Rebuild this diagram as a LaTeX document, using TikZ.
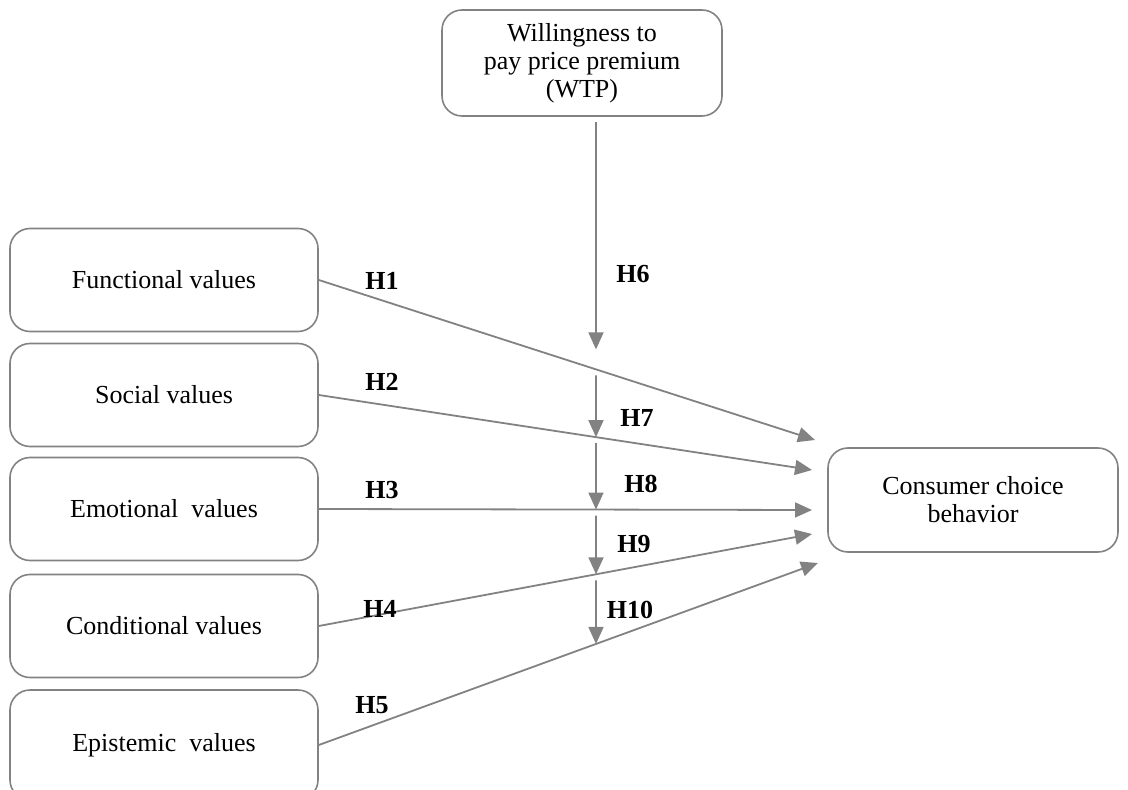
\documentclass[tikz,border=0pt]{standalone}
\usepackage{fontspec}
\setmainfont{Liberation Serif}
\usetikzlibrary{arrows.meta}
\definecolor{linegray}{RGB}{130,130,130}

\begin{document}
\begin{tikzpicture}[x=0.5pt,y=-0.5pt,
    valbox/.style={draw=linegray, line width=0.8pt, rounded corners=10pt,
      minimum width=154pt, minimum height=51.5pt, align=center,
      font=\fontsize{13}{14}\selectfont},
    hyp/.style={draw=linegray, line width=0.9pt,
      -{Triangle[length=8.5pt,width=7.5pt]}},
    hlabel/.style={font=\fontsize{13}{14}\selectfont\bfseries}]
    \useasboundingbox (0,0) rectangle (1128,790);
    % constructs
    \node[valbox, minimum width=140pt, minimum height=53pt] (wtp) at (582,63)
      {Willingness to\\pay price premium\\(WTP)};
    \node[valbox] (fv) at (164,280) {Functional values};
    \node[valbox] (sv) at (164,395) {Social values};
    \node[valbox] (ev) at (164,509) {Emotional\ \ values};
    \node[valbox] (cv) at (164,626) {Conditional values};
    \node[valbox, minimum height=55pt] (epv) at (164,745) {Epistemic\ \ values};
    \node[valbox, minimum width=145pt, minimum height=52pt] (ccb) at (973,500)
      {Consumer choice\\behavior};
    % arrow ends in front of the outcome box
    \coordinate (t1) at (815,440);
    \coordinate (t2) at (812,470);
    \coordinate (t3) at (812,510);
    \coordinate (t4) at (812,534);
    \coordinate (t5) at (818,563);
    % moderating axis
    \coordinate (vtop) at (596,122);
    \coordinate (vbot) at (596,790);
    \coordinate (m1) at (intersection of fv.east--t1 and vtop--vbot);
    \coordinate (m2) at (intersection of sv.east--t2 and vtop--vbot);
    \coordinate (m3) at (intersection of ev.east--t3 and vtop--vbot);
    \coordinate (m4) at (intersection of cv.east--t4 and vtop--vbot);
    \coordinate (m5) at (intersection of epv.east--t5 and vtop--vbot);
    % direct effects
    \draw[hyp] (fv.east) -- (t1);
    \draw[hyp] (sv.east) -- (t2);
    \draw[hyp] (ev.east) -- (t3);
    \draw[hyp] (cv.east) -- (t4);
    \draw[hyp] (epv.east) -- (t5);
    % moderation
    \draw[hyp, shorten >=10pt] (vtop) -- (m1);
    \draw[hyp, shorten <=3pt] (m1) -- (m2);
    \draw[hyp, shorten <=3pt] (m2) -- (m3);
    \draw[hyp, shorten <=3pt] (m3) -- (m4);
    \draw[hyp, shorten <=3pt] (m4) -- (m5);
    % hypotheses
    \node[hlabel] (h1) at (382,281) {H1};
    \node[hlabel] (h2) at (382,382) {H2};
    \node[hlabel] (h3) at (382,490) {H3};
    \node[hlabel] (h4) at (380,609) {H4};
    \node[hlabel] (h5) at (372,705) {H5};
    \node[hlabel] (h6) at (633,274) {H6};
    \node[hlabel] (h7) at (637,418) {H7};
    \node[hlabel] (h8) at (641,484) {H8};
    \node[hlabel] (h9) at (634,544) {H9};
    \node[hlabel] (h10) at (630,610) {H10};
  \end{tikzpicture}
\end{document}
